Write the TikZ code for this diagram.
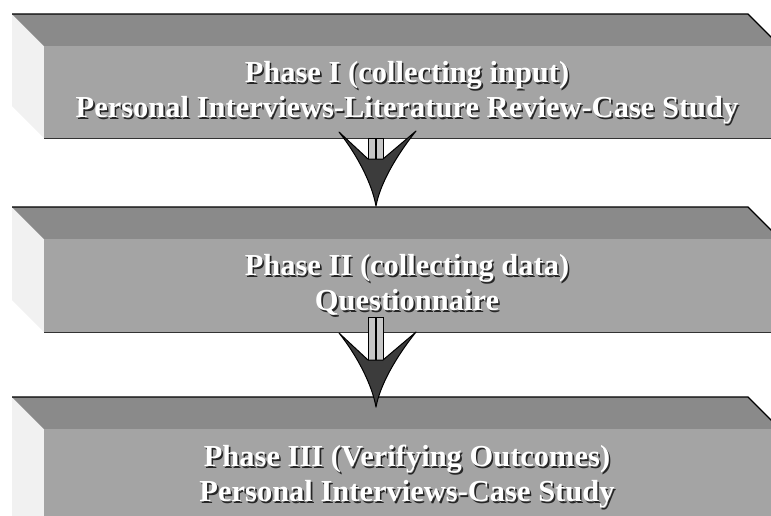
\documentclass[tikz,border=0pt]{standalone}
\usepackage{fontspec}
\setmainfont{Liberation Serif}
\definecolor{slabtop}{HTML}{8A8A8A}
\definecolor{slabfront}{HTML}{A4A4A4}
\definecolor{slabside}{HTML}{F1F1F1}
\definecolor{headfill}{HTML}{3C3C3C}
\tikzset{
  topface/.style={fill=slabtop},
  frontface/.style={fill=slabfront},
  sideface/.style={fill=slabside},
  slabedge/.style={draw=black, line width=1.2pt},
  phasetext/.style={text=white, align=center, font=\bfseries\fontsize{30.5}{35}\selectfont, inner sep=0pt},
  phaseshadow/.style={phasetext, text=black!85},
  arrowhead/.style={fill=headfill, draw=black, line width=1pt, line join=round},
  arrowshaft/.style={fill=gray!45, draw=black, line width=1pt},
  pics/downarrow/.style={code={
    % shaft, from the upper slab down to the notch of the head
    \path[arrowshaft] (-7.5,-#1) rectangle (7.5,-46);
    \draw[black, line width=1.5pt] (0,-#1) -- (0,-46);
    % barbed head with its point at the pic origin
    \path[arrowhead] (-37,-74) -- (-8,-47) -- (7,-47) -- (40,-75)
      .. controls (20,-50) and (4,-22) .. (0,0)
      .. controls (-4,-22) and (-18,-50) .. cycle;
  }}
}
% one 3D slab: top face, left face and front face, from top y #1 to bottom y #2
\newcommand\drawslab[2]{%
  \path[sideface] (12,#1) -- (44,#1+32) -- (44,#2) -- (12,#2-32) -- cycle;
  \path[topface] (12,#1) -- (748,#1) -- (780,#1+32) -- (44,#1+32) -- cycle;
  \path[frontface] (44,#1+32) rectangle (790,#2);
  \draw[slabedge] (12,#1) -- (748,#1) -- (780,#1+32);
  \draw[black!80, line width=0.8pt] (44,#2) -- (790,#2);
}
% white label with a dark offset copy behind it
\newcommand\phaselabel[3]{%
  \node[phaseshadow] (#1s) at ([shift={(1.6,1.6)}]#2) {#3};
  \node[phasetext] (#1) at (#2) {#3};
}
\begin{document}
\begin{tikzpicture}[x=1pt, y=-1pt]
\useasboundingbox (0,0) rectangle (771,515);
\clip (0,0) rectangle (771,515);

\drawslab{14}{138}
\drawslab{207}{332}
\drawslab{397}{560}

\coordinate (s1bottom) at (376,138);
\coordinate (s2top) at (376,206);
\coordinate (s2bottom) at (376,332);
\coordinate (s3top) at (376,407);

\phaselabel{phaseone}{407,93}{Phase I (collecting input)\\Personal Interviews-Literature Review-Case Study}
\phaselabel{phasetwo}{407,285}{Phase II (collecting data)\\Questionnaire}
\phaselabel{phasethree}{407,477}{Phase III (Verifying Outcomes)\\Personal Interviews-Case Study}

\pic at (s2top) {downarrow=68};
\pic at (s3top) {downarrow=90};
\end{tikzpicture}
\end{document}
